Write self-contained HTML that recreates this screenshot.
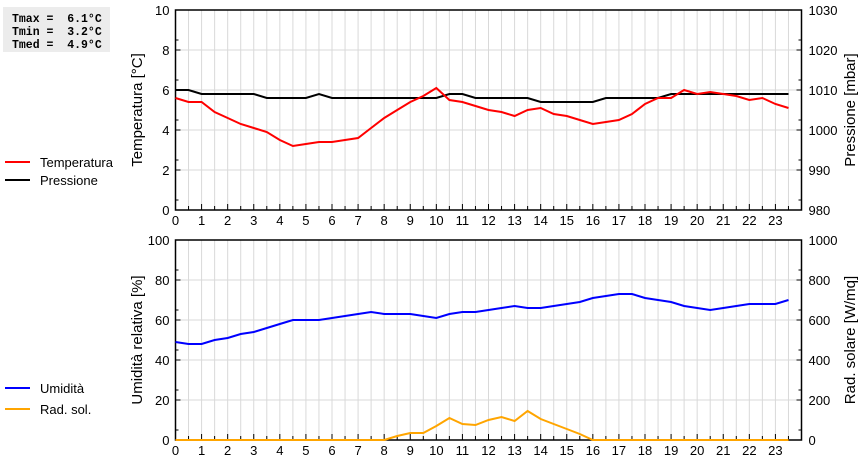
<!DOCTYPE html>
<html><head><meta charset="utf-8">
<style>
body{margin:0;background:#fff;width:860px;height:460px;overflow:hidden;font-family:"Liberation Sans",sans-serif;}
svg{display:block}
</style></head>
<body>
<svg id="chart" width="860" height="460" xmlns="http://www.w3.org/2000/svg">
<rect x="3" y="7" width="107" height="45" fill="#ececec"/>
<g font-family="'Liberation Mono',monospace" font-weight="bold" font-size="11.5" fill="#000">
<text x="12" y="22" xml:space="preserve">Tmax =  6.1°C</text>
<text x="12" y="35" xml:space="preserve">Tmin =  3.2°C</text>
<text x="12" y="48" xml:space="preserve">Tmed =  4.9°C</text>
</g>
<g font-size="13" fill="#000">
<line x1="5" y1="162" x2="30" y2="162" stroke="#f00" stroke-width="2"/>
<text x="40" y="167">Temperatura</text>
<line x1="5" y1="180" x2="30" y2="180" stroke="#000" stroke-width="2"/>
<text x="40" y="185">Pressione</text>
<line x1="5" y1="388" x2="30" y2="388" stroke="#00f" stroke-width="2"/>
<text x="40" y="393">Umidità</text>
<line x1="5" y1="409" x2="30" y2="409" stroke="#ffa500" stroke-width="2"/>
<text x="40" y="414">Rad. sol.</text>
</g>
<g id="g"></g>
</svg>
<script>
const hours=[0,0.5,1,1.5,2,2.5,3,3.5,4,4.5,5,5.5,6,6.5,7,7.5,8,8.5,9,9.5,10,10.5,11,11.5,12,12.5,13,13.5,14,14.5,15,15.5,16,16.5,17,17.5,18,18.5,19,19.5,20,20.5,21,21.5,22,22.5,23,23.5];
const temperatura=[5.6,5.4,5.4,4.9,4.6,4.3,4.1,3.9,3.5,3.2,3.3,3.4,3.4,3.5,3.6,4.1,4.6,5.0,5.4,5.7,6.1,5.5,5.4,5.2,5.0,4.9,4.7,5.0,5.1,4.8,4.7,4.5,4.3,4.4,4.5,4.8,5.3,5.6,5.6,6.0,5.8,5.9,5.8,5.7,5.5,5.6,5.3,5.1];
const pressione=[1010,1010,1009,1009,1009,1009,1009,1008,1008,1008,1008,1009,1008,1008,1008,1008,1008,1008,1008,1008,1008,1009,1009,1008,1008,1008,1008,1008,1007,1007,1007,1007,1007,1008,1008,1008,1008,1008,1009,1009,1009,1009,1009,1009,1009,1009,1009,1009];
const umidita=[49,48,48,50,51,53,54,56,58,60,60,60,61,62,63,64,63,63,63,62,61,63,64,64,65,66,67,66,66,67,68,69,71,72,73,73,71,70,69,67,66,65,66,67,68,68,68,70];
const radiazione=[0,0,0,0,0,0,0,0,0,0,0,0,0,0,0,0,0,20,35,35,70,110,80,75,100,115,95,145,105,80,55,30,0,0,0,0,0,0,0,0,0,0,0,0,0,0,0,0];
const xTicks=[0,1,2,3,4,5,6,7,8,9,10,11,12,13,14,15,16,17,18,19,20,21,22,23];
const tempTicks=[0,2,4,6,8,10];
const presTicks=[980,990,1000,1010,1020,1030];
const humTicks=[0,20,40,60,80,100];
const radTicks=[0,200,400,600,800,1000];

const NS="http://www.w3.org/2000/svg";
const G=document.getElementById('g');
const X0=175.5,X1=801.5;
const xs=h=>X0+(X1-X0)*h/24;
function mk(t,a,p){const e=document.createElementNS(NS,t);for(const k in a)e.setAttribute(k,a[k]);(p||G).appendChild(e);return e;}
function panel(top,lt,rt,ltitle,rtitle,name){
  const bot=top+200;
  const ly=v=>bot-200*(v-lt[0])/(lt[lt.length-1]-lt[0]);
  const ry=v=>bot-200*(v-rt[0])/(rt[rt.length-1]-rt[0]);
  for(let h=0.5;h<24;h+=0.5){const l=mk('line',{x1:xs(h),x2:xs(h),y1:top,y2:bot,stroke:'#d9d9d9','stroke-width':1});
    
    }
  lt.forEach((v,i)=>{const y=ly(v);
    if(i>0&&i<lt.length-1){const l=mk('line',{x1:X0,x2:X1,y1:y,y2:y,stroke:'#d9d9d9','stroke-width':1});
      
      }
    mk('line',{x1:X0,x2:X0+5,y1:y,y2:y,stroke:'#000'});
    mk('line',{x1:X1-5,x2:X1,y1:y,y2:y,stroke:'#000'});
    if(i<lt.length-1){const ym=y-10;mk('line',{x1:X0,x2:X0+3,y1:ym,y2:ym,stroke:'#000'});mk('line',{x1:X1-3,x2:X1,y1:ym,y2:ym,stroke:'#000'});}
    const t=mk('text',{x:X0-6,y:y+5,'text-anchor':'end','font-size':13});t.textContent=v;
    
    
  });
  rt.forEach(v=>{const y=ry(v);const t=mk('text',{x:X1+7,y:y+5,'font-size':13});t.textContent=v;
    
    });
  for(let h=0.5;h<24;h+=0.5){mk('line',{x1:xs(h),x2:xs(h),y1:bot,y2:bot-(h%1?4:6),stroke:'#000'});}
  xTicks.forEach(h=>{const t=mk('text',{x:xs(h),y:bot+15,'text-anchor':'middle','font-size':13});t.textContent=h;
    
    });
  const fr=mk('rect',{x:X0,y:top,width:X1-X0,height:200,fill:'none',stroke:'#000','stroke-width':1.5});
  
  
  const a=mk('text',{x:0,y:0,'text-anchor':'middle','font-size':15,transform:`translate(142,${top+100}) rotate(-90)`});a.textContent=ltitle;
  
  
  const b=mk('text',{x:0,y:0,'text-anchor':'middle','font-size':15,transform:`translate(855,${top+100}) rotate(-90)`});b.textContent=rtitle;
  
  
  return {ly,ry};
}
function series(vals,yf,color,nm){
  const pts=vals.map((v,i)=>xs(hours[i]).toFixed(1)+','+yf(v).toFixed(1)).join(' ');
  const p=mk('polyline',{points:pts,fill:'none',stroke:color,'stroke-width':2});
  
  
}
const A=panel(10,tempTicks,presTicks,'Temperatura [°C]','Pressione [mbar]','top');
series(pressione,A.ry,'#000','pressione-line');
series(temperatura,A.ly,'#f00','temperatura-line');
const B=panel(240,humTicks,radTicks,'Umidità relativa [%]','Rad. solare [W/mq]','bottom');
series(radiazione,B.ry,'#ffa500','radiazione-line');
series(umidita,B.ly,'#00f','umidita-line');
</script>
</body></html>
